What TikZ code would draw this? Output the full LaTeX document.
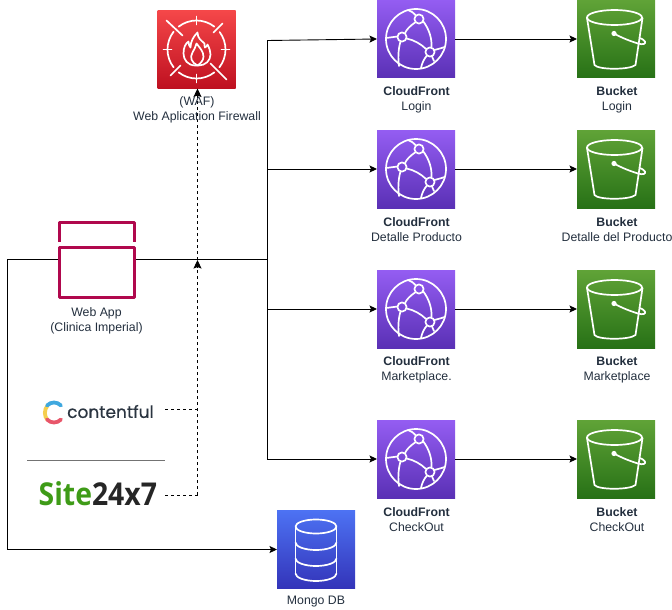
\documentclass[tikz,border=0pt]{standalone}
\usepackage{fontspec}
\setmainfont{Liberation Sans}
\newfontfamily\logoA[FakeBold=0.45]{Poppins}
\newfontfamily\logoB{Open Sans}
\usetikzlibrary{arrows.meta,calc}
\definecolor{lbl}{HTML}{232F3E}
\definecolor{appred}{HTML}{B0084D}
\definecolor{wafT}{HTML}{F54749}
\definecolor{wafB}{HTML}{BE1020}
\definecolor{cfT}{HTML}{945DF2}
\definecolor{cfB}{HTML}{5A30B5}
\definecolor{sT}{HTML}{60A337}
\definecolor{sB}{HTML}{277116}
\definecolor{dbT}{HTML}{4D72F3}
\definecolor{dbB}{HTML}{3334B9}
\definecolor{cfyellow}{HTML}{F5CF4E}
\definecolor{cfblue}{HTML}{3FA8DF}
\definecolor{cfrose}{HTML}{E8566A}
\definecolor{sgreen}{HTML}{3E9B17}
\definecolor{sdark}{HTML}{262626}
\definecolor{cfdark}{HTML}{2A3440}
\tikzset{
  iconbox/.style={rectangle,minimum width=78pt,minimum height=78pt,inner sep=0pt,outer sep=0pt},
  wafbox/.style={iconbox,top color=wafT,bottom color=wafB},
  cfbox/.style={iconbox,top color=cfT,bottom color=cfB},
  sbox/.style={iconbox,top color=sT,bottom color=sB},
  dbbox/.style={iconbox,top color=dbT,bottom color=dbB},
  lab/.style={font=\fontsize{12.3}{15}\selectfont,text=lbl,align=center,inner sep=0pt},
  conn/.style={draw=black,line width=.9pt,-{Stealth[length=7.5pt,width=7pt,inset=1.5pt]}},
  dashconn/.style={draw=black,line width=.9pt,dash pattern=on 3pt off 3pt},
  dasharrow/.style={dashconn,-{Stealth[length=8.5pt,width=8pt,inset=1.5pt]}},
  glyph/.style={draw=white,line width=1.7pt,line cap=round,line join=round},
}
\newcommand{\cfglyph}[1]{%
  \begin{scope}[shift={(#1.center)},glyph]
    \draw (0,0) circle[radius=30pt];
    \draw[fill=none] (3,-20) circle[radius=4.6pt];
    \draw (-14,-2) circle[radius=4.6pt];
    \draw (14,13) circle[radius=4.6pt];
    \draw (-1,-16.5) .. controls (-6,-13) and (-9,-10) .. (-11,-6);
    \draw (-9.5,-0.5) .. controls (-2,1) and (5,5) .. (10,10);
    \draw (7,-18) .. controls (13,-10) and (16,-1) .. (15.5,8);
    \draw (-8,-29) .. controls (-5,-28) and (-2,-26) .. (0,-23.5);
    \draw (-30,-1) -- (-18.5,-2.5);
    \draw (-15.5,2.5) .. controls (-18,11) and (-18,20) .. (-17,27);
    \draw (11,16.5) .. controls (8,20) and (6,24) .. (5,29);
    \draw (18.5,11) .. controls (22,10) and (26,9) .. (28.5,8);
    \draw (16,17.5) -- (18,22);
  \end{scope}}
\newcommand{\sglyph}[1]{%
  \begin{scope}[shift={(#1.center)},glyph]
    \draw (-1.5,-21.5) ellipse[x radius=27.5pt,y radius=7.5pt];
    \draw (-29,-21) -- (-21.5,26) .. controls (-18,31) and (14,31) .. (19.5,26) -- (26.5,-21);
    \fill[white] (-2,-5.5) circle[radius=2.6pt];
    \draw (-2,-5.5) .. controls (6,-1) and (14,2) .. (22,4.5) .. controls (27,6) and (30,5) .. (29,2.5) .. controls (28,0) and (25,0) .. (23.5,-1);
  \end{scope}}
\newcommand{\dbglyph}[1]{%
  \begin{scope}[shift={(#1.center)},glyph]
    \draw (0,-23) ellipse[x radius=20.5pt,y radius=7pt];
    \draw (-20.5,-23) -- (-20.5,24);
    \draw (20.5,-23) -- (20.5,24);
    \draw (-20.5,-7) arc[start angle=180,end angle=360,x radius=20.5pt,y radius=7.5pt];
    \draw (-20.5,9) arc[start angle=180,end angle=360,x radius=20.5pt,y radius=7.5pt];
    \draw (-20.5,24) arc[start angle=180,end angle=360,x radius=20.5pt,y radius=7.5pt];
  \end{scope}}
\newcommand{\wafglyph}[1]{%
  \begin{scope}[shift={(#1.center)},glyph]
    \foreach \a/\b in {52/128,142/218,232/308,322/397}{
      \draw (\a:29pt) arc[start angle=\a,end angle=\b,radius=29pt];}
    \draw (0,-33) -- (0,-25);
    \draw (0,33) -- (0,25);
    \draw (-33,0) -- (-25,0);
    \draw (33,0) -- (25,0);
    \draw (-30,-29) -- (-14,-14);
    \draw (14,14) -- (30,30);
    \draw (17,-17) -- (26,-26);
    \draw (-26,26) -- (-16,16);
    \draw (-1,16) .. controls (-9,16) and (-13,10) .. (-13,4) .. controls (-13,-2) and (-11,-6) .. (-8,-8)
      .. controls (-8,-5) and (-7,-3) .. (-6,-2) .. controls (-6,-8) and (-3,-13) .. (1,-17)
      .. controls (1,-11) and (5,-9) .. (8,-6) .. controls (8,-4) and (8,-3) .. (8.5,-2)
      .. controls (10,-3) and (11,-4) .. (11,-5) .. controls (13,-1) and (14,2) .. (14,5)
      .. controls (14,11) and (9,16) .. (2,16) -- cycle;
    \draw (1,16) .. controls (-5,13) and (-7,8) .. (-4,3) .. controls (-2,0) and (-1,-3) .. (0,-6)
      .. controls (3,-2) and (7,2) .. (7,7) .. controls (7,11) and (4,14) .. (1,16);
  \end{scope}}
\begin{document}
\begin{tikzpicture}[x=1pt,y=-1pt]
\useasboundingbox (0,0) rectangle (672,610);

% icons
\node[wafbox] (waf) at (196.5,49.5) {};
\node[cfbox] (cfa) at (416,39) {};
\node[cfbox] (cfb) at (416,169) {};
\node[cfbox] (cfc) at (416,309) {};
\node[cfbox] (cfd) at (416,459) {};
\node[sbox] (sa) at (616,39) {};
\node[sbox] (sb) at (616,169) {};
\node[sbox] (sc) at (616,309) {};
\node[sbox] (sd) at (616,459) {};
\node[dbbox] (db) at (316,549.5) {};
\node[rectangle,minimum width=77pt,minimum height=77pt,inner sep=0pt,outer sep=0pt] (app) at (96.5,259.5) {};

% connectors
\coordinate (trunk) at (267.5,259.5);
\coordinate (leftTop) at (7.5,259.5);
\coordinate (leftBot) at (7.5,549.5);
\draw[conn] (app.east) -- (trunk) -- (267.5,40.5) -- (cfa.west);
\draw[conn] (trunk) |- (cfb.west);
\draw[conn] (trunk) |- (cfc.west);
\draw[conn] (trunk) |- (cfd.west);
\draw[draw=black,line width=1.9pt] (app.east) -- (trunk);
\draw[conn] (app.west) -- (leftTop) -- (leftBot) -- (db.west);
\draw[conn] (cfa.east) -- (sa.west);
\draw[conn] (cfb.east) -- (sb.west);
\draw[conn] (cfc.east) -- (sc.west);
\draw[conn] (cfd.east) -- (sd.west);

% logos
\node[inner sep=0pt,anchor=west,font=\logoA\fontsize{17}{17}\selectfont,text=cfdark] (contentful) at (67,411.5) {contentful};
\node[inner sep=0pt,anchor=west] (site) at (38.5,494) {\scalebox{.9}[1]{\logoB\bfseries\fontsize{31.5}{32}\selectfont\textcolor{sgreen}{Site}\textcolor{sdark}{24x7}}};
\coordinate (dashA) at (165,409.5);
\coordinate (dashB) at (165,495);
\coordinate (joinA) at (197.5,409.5);
\coordinate (joinB) at (197.5,495);
\coordinate (mid) at (197.5,260);
\draw[dashconn] (dashA) -- (joinA);
\draw[dashconn] (dashB) -- (joinB);
\draw[dasharrow] (joinB) -- (mid);
\draw[dasharrow] (mid) -- (waf.south -| mid);

% web app glyph
\draw[appred,line width=3pt,line join=round] (59,242) -- (59,222.5) -- (134,222.5) -- (134,242);
\draw[appred,line width=3pt,line join=round] (59,247.5) rectangle (134,297);

% glyphs
\wafglyph{waf}
\cfglyph{cfa}\cfglyph{cfb}\cfglyph{cfc}\cfglyph{cfd}
\sglyph{sa}\sglyph{sb}\sglyph{sc}\sglyph{sd}
\dbglyph{db}

% contentful C mark
\begin{scope}[line width=3.8pt]
  \draw[cfyellow] (47.5,405.5) .. controls (44,410) and (44,416) .. (47.5,420);
  \draw[cfrose,line cap=round] (47,419.5) .. controls (51,423.5) and (57,423.5) .. (61,419.5);
  \draw[cfblue,line cap=round] (47,405.5) .. controls (51,401.5) and (57,401.5) .. (61,405.5);
\end{scope}

% divider
\coordinate (ruleA) at (27,460.5);
\coordinate (ruleB) at (165,460.5);
\draw[draw=black!55,line width=.8pt] (ruleA) -- (ruleB);

% labels
\node[lab] (lwaf) at (197,110) {(WAF)\\Web Aplication Firewall};
\node[lab] (lapp) at (96.5,320.5) {Web App\\(Clinica Imperial)};
\node[lab] (ldb) at (316,602) {Mongo DB};
\node[lab] (lcfa) at (416.5,100) {\textbf{CloudFront}\\Login};
\node[lab] (lcfb) at (416.5,230) {\textbf{CloudFront}\\Detalle Producto};
\node[lab] (lcfc) at (416.5,370) {\textbf{CloudFront}\\Marketplace.};
\node[lab] (lcfd) at (416.5,520) {\textbf{CloudFront}\\CheckOut};
\node[lab] (lsa) at (617,100) {\textbf{Bucket}\\Login};
\node[lab] (lsb) at (617,230) {\textbf{Bucket}\\Detalle del Producto};
\node[lab] (lsc) at (617,370) {\textbf{Bucket}\\Marketplace};
\node[lab] (lsd) at (617,520) {\textbf{Bucket}\\CheckOut};
\end{tikzpicture}
\end{document}
